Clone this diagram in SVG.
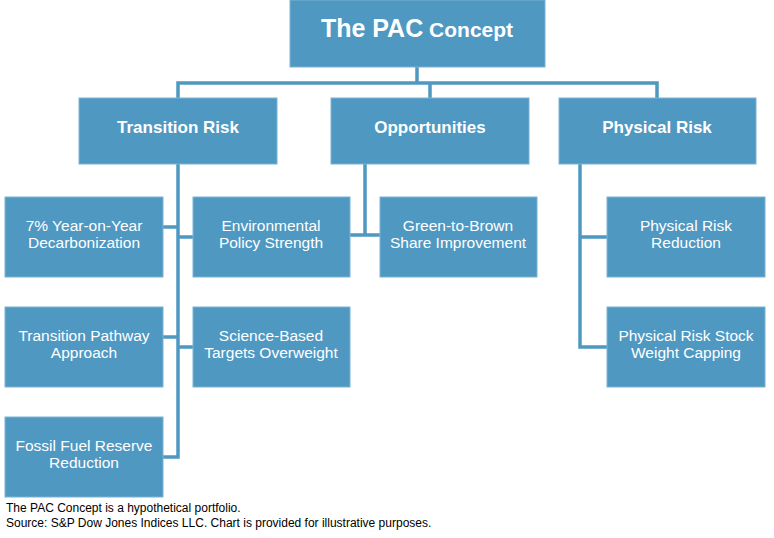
<svg xmlns="http://www.w3.org/2000/svg" width="774" height="538" viewBox="0 0 774 538">
<style>
.b{fill:#4f98c2;stroke:#7bb3d5;stroke-width:1}
.c{stroke:#4f98c2;stroke-width:3.5;fill:none}
.t{font-family:"Liberation Sans",Arial,sans-serif;fill:#fff;text-anchor:middle}
.h{font-size:17px;font-weight:bold}
.s{font-size:15.5px}
.f{font-family:"Liberation Sans",Arial,sans-serif;font-size:12px;fill:#000}
</style>
<rect width="774" height="538" fill="#fff"/>
<g id="connectors" class="c">
<path d="M417 67V83M178 98V83H657V98M430 83V98"/>
<path d="M178 164V457H163M163 227H178M178 237H193M163 337H178M178 347H193"/>
<path d="M365 164V235H380M350 235H365"/>
<path d="M580 164V347H607M580 237H607"/>
</g>
<g id="root"><rect class="b" x="290" y="0" width="255" height="67"/><text class="t" x="417" y="37" font-weight="bold"><tspan font-size="25">The PAC</tspan><tspan font-size="21"> Concept</tspan></text></g>
<g id="transition"><rect class="b" x="79" y="98" width="198" height="66"/><text class="t h" x="178" y="133">Transition Risk</text></g>
<g id="opportunities"><rect class="b" x="331" y="98" width="198" height="66"/><text class="t h" x="430" y="133">Opportunities</text></g>
<g id="physical"><rect class="b" x="559" y="98" width="197" height="66"/><text class="t h" x="657" y="133">Physical Risk</text></g>
<g id="n1"><rect class="b" x="5" y="197" width="158" height="80"/><text class="t s" x="84" y="231">7% Year-on-Year<tspan x="84" dy="17">Decarbonization</tspan></text></g>
<g id="n2"><rect class="b" x="193" y="197" width="157" height="80"/><text class="t s" x="271" y="231">Environmental<tspan x="271" dy="17">Policy Strength</tspan></text></g>
<g id="n3"><rect class="b" x="380" y="197" width="157" height="80"/><text class="t s" x="458" y="231">Green-to-Brown<tspan x="458" dy="17">Share Improvement</tspan></text></g>
<g id="n4"><rect class="b" x="607" y="197" width="158" height="80"/><text class="t s" x="686" y="231">Physical Risk<tspan x="686" dy="17">Reduction</tspan></text></g>
<g id="n5"><rect class="b" x="5" y="307" width="158" height="80"/><text class="t s" x="84" y="341">Transition Pathway<tspan x="84" dy="17">Approach</tspan></text></g>
<g id="n6"><rect class="b" x="193" y="307" width="157" height="80"/><text class="t s" x="271" y="341">Science-Based<tspan x="271" dy="17">Targets Overweight</tspan></text></g>
<g id="n7"><rect class="b" x="607" y="307" width="158" height="80"/><text class="t s" x="686" y="341">Physical Risk Stock<tspan x="686" dy="17">Weight Capping</tspan></text></g>
<g id="n8"><rect class="b" x="5" y="417" width="158" height="80"/><text class="t s" x="84" y="451">Fossil Fuel Reserve<tspan x="84" dy="17">Reduction</tspan></text></g>
<text class="f" x="6" y="512">The PAC Concept is a hypothetical portfolio.</text>
<text class="f" x="6" y="527">Source: S&amp;P Dow Jones Indices LLC.  Chart is provided for illustrative purposes.</text>
</svg>
